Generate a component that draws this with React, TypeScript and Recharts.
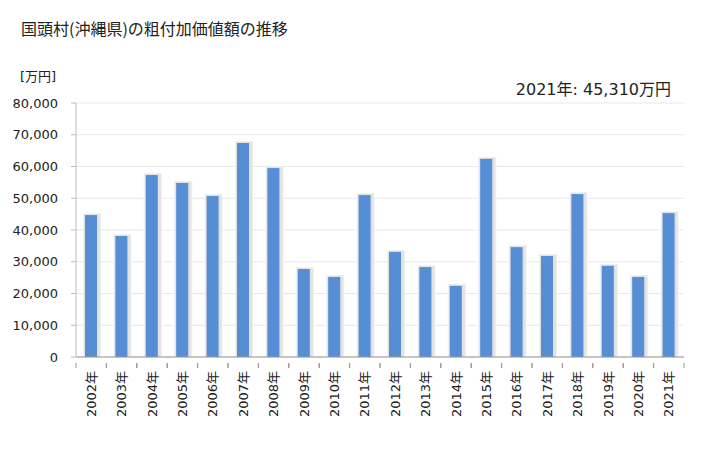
import React from 'react';
import { BarChart, Bar, XAxis, YAxis, CartesianGrid } from 'recharts';

const years = [
  '2002年', '2003年', '2004年', '2005年', '2006年', '2007年', '2008年', '2009年', '2010年', '2011年',
  '2012年', '2013年', '2014年', '2015年', '2016年', '2017年', '2018年', '2019年', '2020年', '2021年',
];
const values = [
  44700, 38100, 57300, 54800, 50700, 67400, 59500, 27700, 25200, 51000,
  33100, 28300, 22400, 62400, 34600, 31800, 51300, 28700, 25200, 45310,
];
const yTicks = [0, 10000, 20000, 30000, 40000, 50000, 60000, 70000, 80000];

const data = years.map((year, i) => ({ year, value: values[i] }));

const W = 728;
const H = 450;
const PLOT_LEFT = 76;
const PLOT_RIGHT = 684;
const STEP = (PLOT_RIGHT - PLOT_LEFT) / years.length;
const FONT = '"DejaVu Sans", "Noto Sans CJK JP", sans-serif';

// blue bar with a soft grey shadow, mostly on the right
const ShadowBar = (props: any) => {
  const { x, y, width, height } = props;
  if (height <= 0) return null;
  return (
    <g>
      <rect x={x - 2} y={y - 2} width={width + 6} height={height + 2} fill="#f0f0f0" />
      <rect x={x - 1} y={y - 1} width={width + 4} height={height + 1} fill="#e2e2e2" />
      <rect x={x} y={y} width={width} height={height} fill="#558ed5" />
    </g>
  );
};

const XTick = (props: any) => {
  const { x, y, payload } = props;
  return (
    <g>
      <line x1={x - STEP / 2} y1={y - 8} x2={x - STEP / 2} y2={y - 3} stroke="#999" />
      <line x1={x + STEP / 2} y1={y - 8} x2={x + STEP / 2} y2={y - 3} stroke="#999" />
      <text
        x={x}
        y={y}
        transform={`rotate(-90, ${x}, ${y})`}
        textAnchor="end"
        dominantBaseline="central"
        fontSize={13}
        fill="#222"
        fontFamily={FONT}
      >
        {payload.value}
      </text>
    </g>
  );
};

export default function App() {
  return (
    <div style={{ position: 'absolute', left: 0, top: 0, width: W, height: H, background: '#fff', fontFamily: FONT }}>
      <div style={{ position: 'absolute', left: 21, top: 16, fontSize: 16, color: '#222', fontFamily: '"Noto Sans CJK JP", sans-serif' }}>
        国頭村(沖縄県)の粗付加価値額の推移
      </div>
      <div style={{ position: 'absolute', left: 20, top: 66, fontSize: 13, color: '#222' }}>[万円]</div>
      <div style={{ position: 'absolute', right: 57, top: 76, fontSize: 16, color: '#222' }}>
        2021年: 45,310万円
      </div>
      <BarChart
        width={W}
        height={H}
        data={data}
        margin={{ top: 103, right: W - PLOT_RIGHT, bottom: 0, left: 0 }}
        barCategoryGap={0}
      >
        <CartesianGrid vertical={false} stroke="#e8e8e8" />
        <XAxis
          dataKey="year"
          interval={0}
          height={H - 357}
          axisLine={{ stroke: '#999' }}
          tickLine={false}
          tick={<XTick />}
          tickMargin={8}
        />
        <YAxis
          width={PLOT_LEFT}
          domain={[0, 80000]}
          ticks={yTicks}
          interval={0}
          axisLine={{ stroke: '#bbb' }}
          tickLine={{ stroke: '#bbb' }}
          tickSize={5}
          tickMargin={13}
          tick={{ fontSize: 13, fill: '#222', fontFamily: FONT }}
          tickFormatter={(v: number) => v.toLocaleString('en-US')}
        />
        <Bar dataKey="value" barSize={12} shape={ShadowBar} isAnimationActive={false} />
      </BarChart>
    </div>
  );
}
